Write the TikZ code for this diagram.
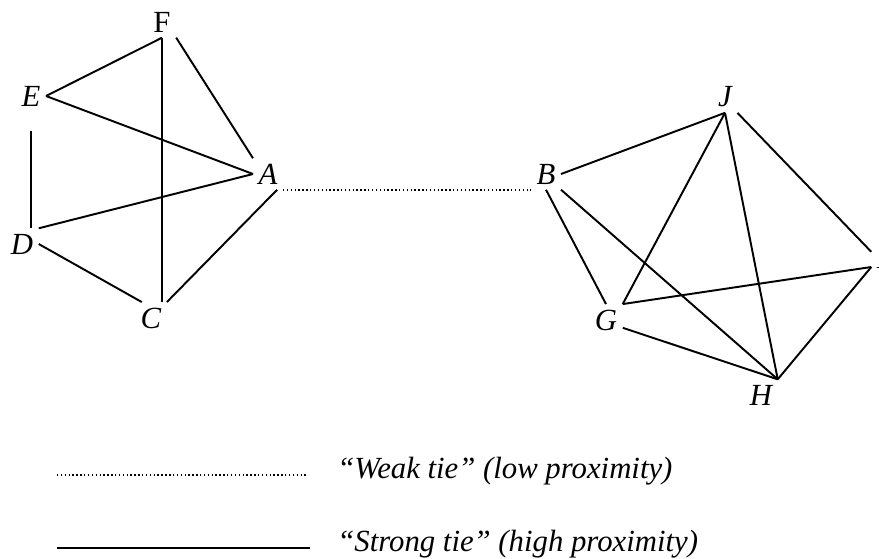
\documentclass[tikz,border=0pt]{standalone}
\usepackage{fontspec}
\setmainfont{Liberation Serif}
\usetikzlibrary{positioning}

\begin{document}
\begin{tikzpicture}[x=0.02cm,y=-0.02cm,
   vlabel/.style={font=\fontsize{17.5}{21}\selectfont\itshape,inner sep=3pt},
   strong/.style={line width=1.1pt},
   weak/.style={line width=1pt,dash pattern=on 0.8pt off 1.4pt},
   legtext/.style={font=\fontsize{17.5}{21}\selectfont\itshape,inner sep=0pt}]
  \useasboundingbox (0,0) rectangle (879,558);
  % left cluster
  \node[vlabel] (F) at (162,22) {\upshape F};
  \node[vlabel] (E) at (31,96) {E};
  \node[vlabel] (D) at (22,244) {D};
  \node[vlabel] (C) at (151,318) {C};
  \node[vlabel] (A) at (268,174) {A};
  % right cluster
  \node[vlabel] (B) at (546,174) {B};
  \node[vlabel] (J) at (725,97) {J};
  \node[vlabel] (G) at (606,320) {G};
  \node[vlabel] (H) at (761,395) {H};
  \node[vlabel] (I) at (882,258) {I};
  % strong ties
  \foreach \a/\b in {E.east/F.south,E.east/A.west,F.south east/A.north west,
                     D.north east/A.west,D.east/C.120,A.-60/C.north east,
                     B.east/J.south,J.south/G.north east,J.south/H.north east,
                     J.south east/I.150,G.north east/I.-140,H.north east/I.-140,
                     B.south/G.north,B.south east/H.north east,G.-25/H.north east}{\draw[strong] (\a) -- (\b);}
  \draw[strong] (F.south) -- (F.south |- C.north);
  \draw[strong,shorten <=11pt] (E.south) -- (E.south |- D.north);
  % weak tie
  \draw[weak] (A.south east) -- (A.south east -| B.south west);
  % legend
  \coordinate (wk1) at (57,475);
  \coordinate (wk2) at (307,475);
  \coordinate (st1) at (57,548);
  \coordinate (st2) at (310,548);
  \draw[weak] (wk1) -- (wk2);
  \draw[strong,line width=1.4pt] (st1) -- (st2);
  \node[legtext,right=0.6cm of wk2,yshift=2pt] (wktext) {“Weak tie” (low proximity)};
  \node[legtext,right=0.54cm of st2,yshift=2pt] (sttext) {“Strong tie” (high proximity)};
\end{tikzpicture}
\end{document}
